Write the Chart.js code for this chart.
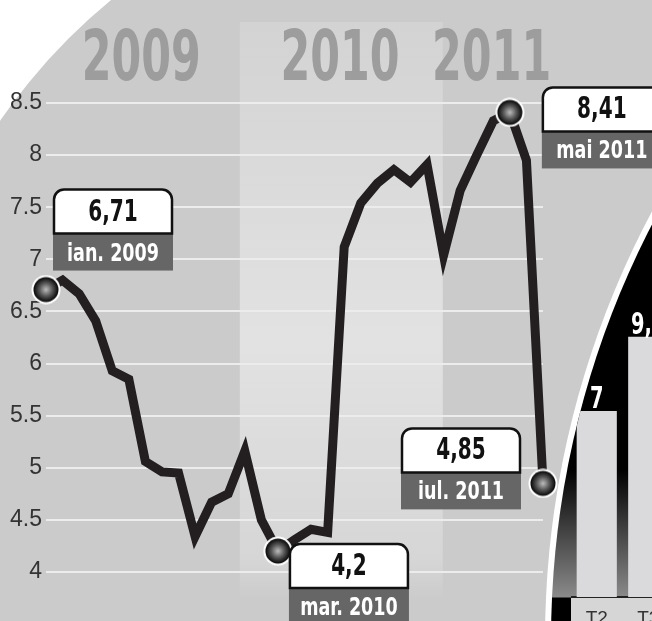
<!DOCTYPE html>
<html>
<head>
<meta charset="utf-8">
<script src="https://cdn.jsdelivr.net/npm/chart.js@4.4.0/dist/chart.umd.min.js"></script>
<style>
  html, body { margin: 0; padding: 0; overflow: hidden; background: #fff; }
  #wrap { position: relative; width: 652px; height: 621px; overflow: hidden; }
  #main { position: absolute; left: 0; top: 0; }
  #ring { position: absolute; left: 0; top: 0; width: 652px; height: 621px; background: #fff;
          clip-path: circle(912px at 1457px 640px); }
  #inset { position: absolute; left: 0; top: 0; width: 652px; height: 621px;
           background: linear-gradient(to bottom, #000 0, #000 470px, #8a8a8a 597px, #000 598px);
           clip-path: circle(906px at 1457px 640px); }
  #bars { position: absolute; left: 571px; top: 300px; }
</style>
</head>
<body>
<div id="wrap">
  <canvas id="main" width="652" height="621"></canvas>
  <div id="ring"></div>
  <div id="inset"><canvas id="bars" width="103" height="321"></canvas></div>
</div>
<script>
// monthly values, ian. 2009 - iul. 2011
const monthNames = ['ian.', 'feb.', 'mar.', 'apr.', 'mai', 'iun.', 'iul.', 'aug.', 'sep.', 'oct.', 'noi.', 'dec.'];
const years = [2009, 2010, 2011];
const values = [6.71, 6.80, 6.67, 6.41, 5.93, 5.85, 5.06, 4.96, 4.95, 4.34, 4.67, 4.75,
                5.16, 4.50, 4.20, 4.31, 4.41, 4.38, 7.12, 7.54, 7.73, 7.86, 7.74, 7.91,
                7.04, 7.66, 8.00, 8.33, 8.41, 7.95, 4.85];
const yTicks = [4, 4.5, 5, 5.5, 6, 6.5, 7, 7.5, 8, 8.5];
const highlighted = [0, 14, 28, 30];
const yearLabels = ['2009', '2010', '2011'];

// inset bars
const quarters = ['T2', 'T3'];
const quarterValues = [7, 9.8];

const months = [];
years.forEach(y => monthNames.forEach(m => months.push(m + ' ' + y)));
months.length = values.length;

const narrow = "'DejaVu Sans Condensed', 'DejaVu Sans', sans-serif";

// callout boxes, offsets from the point
const calloutPos = {
  0: { dx: 8, dy: -100 },
  14: { dx: 12, dy: -7 },
  28: { dx: 33, dy: -25 },
  30: { dx: -141, dy: -55 }
};

// squeezed text, the original uses a condensed face
function squeezeText(ctx, txt, x, y, font, sx) {
  ctx.save();
  ctx.font = font;
  ctx.textAlign = 'center';
  ctx.textBaseline = 'alphabetic';
  ctx.translate(x, y);
  ctx.scale(sx, 1);
  ctx.fillText(txt, 0, 0);
  ctx.restore();
}

function makeBall() {
  const c = document.createElement('canvas');
  c.width = 30; c.height = 30;
  const g = c.getContext('2d');
  g.beginPath(); g.arc(15, 15, 14.5, 0, Math.PI * 2); g.fillStyle = '#fff'; g.fill();
  const rg = g.createRadialGradient(15, 15, 0, 15, 15, 12.5);
  rg.addColorStop(0, '#bdbdbd');
  rg.addColorStop(0.5, '#5a5a5a');
  rg.addColorStop(1, '#050505');
  g.beginPath(); g.arc(15, 15, 12.5, 0, Math.PI * 2); g.fillStyle = rg; g.fill();
  return c;
}
const ball = makeBall();

const backdrop = {
  id: 'backdrop',
  beforeDraw(chart) {
    const ctx = chart.ctx, x = chart.scales.x;
    ctx.save();
    ctx.fillStyle = '#fff';
    ctx.fillRect(0, 0, chart.width, chart.height);
    ctx.beginPath();
    ctx.arc(490, 460, 596, 0, Math.PI * 2);
    ctx.fillStyle = '#cbcbcb';
    ctx.fill();
    // 2010 band
    const b0 = x.getPixelForValue(11.7), b1 = x.getPixelForValue(23.95);
    const gr = ctx.createLinearGradient(0, 22, 0, 600);
    gr.addColorStop(0, '#d3d3d3');
    gr.addColorStop(0.55, '#e2e2e2');
    gr.addColorStop(0.93, '#d6d6d6');
    gr.addColorStop(1, '#cbcbcb');
    ctx.fillStyle = gr;
    ctx.fillRect(b0, 22, b1 - b0, 578);
    // year titles
    ctx.fillStyle = '#9d9d9d';
    [5.75, 17.75, 26.9].forEach((m, i) => {
      squeezeText(ctx, yearLabels[i], x.getPixelForValue(m), 80, 'bold 70px ' + narrow, 0.68);
    });
    ctx.restore();
  }
};

const callouts = {
  id: 'callouts',
  afterDatasetsDraw(chart) {
    const ctx = chart.ctx;
    const pts = chart.getDatasetMeta(0).data;
    ctx.save();
    highlighted.forEach(i => {
      const p = pts[i], o = calloutPos[i];
      const l = p.x + o.dx, t = p.y + o.dy, w = 118, h1 = 44, h2 = 37, r = 10;
      ctx.fillStyle = '#666666';
      ctx.fillRect(l - 1, t + h1, w + 2, h2);
      ctx.beginPath();
      ctx.moveTo(l, t + h1);
      ctx.lineTo(l, t + r);
      ctx.arcTo(l, t, l + r, t, r);
      ctx.lineTo(l + w - r, t);
      ctx.arcTo(l + w, t, l + w, t + r, r);
      ctx.lineTo(l + w, t + h1);
      ctx.closePath();
      ctx.fillStyle = '#fff';
      ctx.fill();
      ctx.lineWidth = 2.5;
      ctx.strokeStyle = '#111';
      ctx.stroke();
      ctx.fillStyle = '#111';
      squeezeText(ctx, String(values[i]).replace('.', ','), l + w / 2, t + 31, 'bold 31px ' + narrow, 0.72);
      ctx.fillStyle = '#fff';
      squeezeText(ctx, months[i], l + w / 2, t + h1 + 27, 'bold 25px ' + narrow, 0.78);
    });
    ctx.restore();
  }
};

new Chart(document.getElementById('main'), {
  type: 'line',
  data: {
    labels: months,
    datasets: [{
      data: values,
      borderColor: '#231f20',
      borderWidth: 9,
      tension: 0,
      borderJoinStyle: 'miter',
      clip: false,
      pointStyle: c => highlighted.includes(c.dataIndex) ? ball : 'circle',
      pointRadius: c => highlighted.includes(c.dataIndex) ? 14 : 0
    }]
  },
  options: {
    responsive: false,
    animation: false,
    events: [],
    layout: { padding: { left: 0, right: 109, top: 77, bottom: 19 } },
    plugins: { legend: { display: false }, tooltip: { enabled: false } },
    scales: {
      x: { display: false, offset: false },
      y: {
        min: 3.75,
        max: 8.75,
        afterFit: s => { s.width = 46; },
        afterBuildTicks: s => { s.ticks = yTicks.map(v => ({ value: v })); },
        border: { display: false },
        grid: { color: '#ececec', lineWidth: 2, drawTicks: false },
        ticks: {
          padding: 4,
          color: '#333',
          font: { family: "'Liberation Sans', Arial, sans-serif", size: 23 },
          callback: v => String(v)
        }
      }
    }
  },
  plugins: [backdrop, callouts]
});

const insetDeco = {
  id: 'insetDeco',
  beforeDraw(chart) {
    const ctx = chart.ctx, a = chart.chartArea;
    ctx.save();
    ctx.fillStyle = '#d6d6d6';
    ctx.fillRect(0, a.bottom, chart.width, chart.height - a.bottom);
    ctx.restore();
  },
  afterDatasetsDraw(chart) {
    const ctx = chart.ctx;
    ctx.save();
    ctx.fillStyle = '#fff';
    chart.getDatasetMeta(0).data.forEach((b, i) => {
      squeezeText(ctx, String(quarterValues[i]).replace('.', ','), b.x, b.y - 3, 'bold 30px ' + narrow, 0.72);
    });
    ctx.restore();
  }
};

new Chart(document.getElementById('bars'), {
  type: 'bar',
  data: {
    labels: quarters,
    datasets: [{
      data: quarterValues,
      backgroundColor: '#dadadd',
      categoryPercentage: 1,
      barPercentage: 0.78
    }]
  },
  options: {
    responsive: false,
    animation: false,
    events: [],
    layout: { padding: 0 },
    plugins: { legend: { display: false }, tooltip: { enabled: false } },
    scales: {
      x: {
        afterFit: s => { s.height = 24; },
        grid: { display: false },
        border: { color: '#222', width: 2 },
        ticks: { color: '#333', padding: 2, font: { family: "'Liberation Sans', Arial, sans-serif", size: 19 } }
      },
      y: { display: false, min: 0, max: 11.18 }
    }
  },
  plugins: [insetDeco]
});
</script>
</body>
</html>
